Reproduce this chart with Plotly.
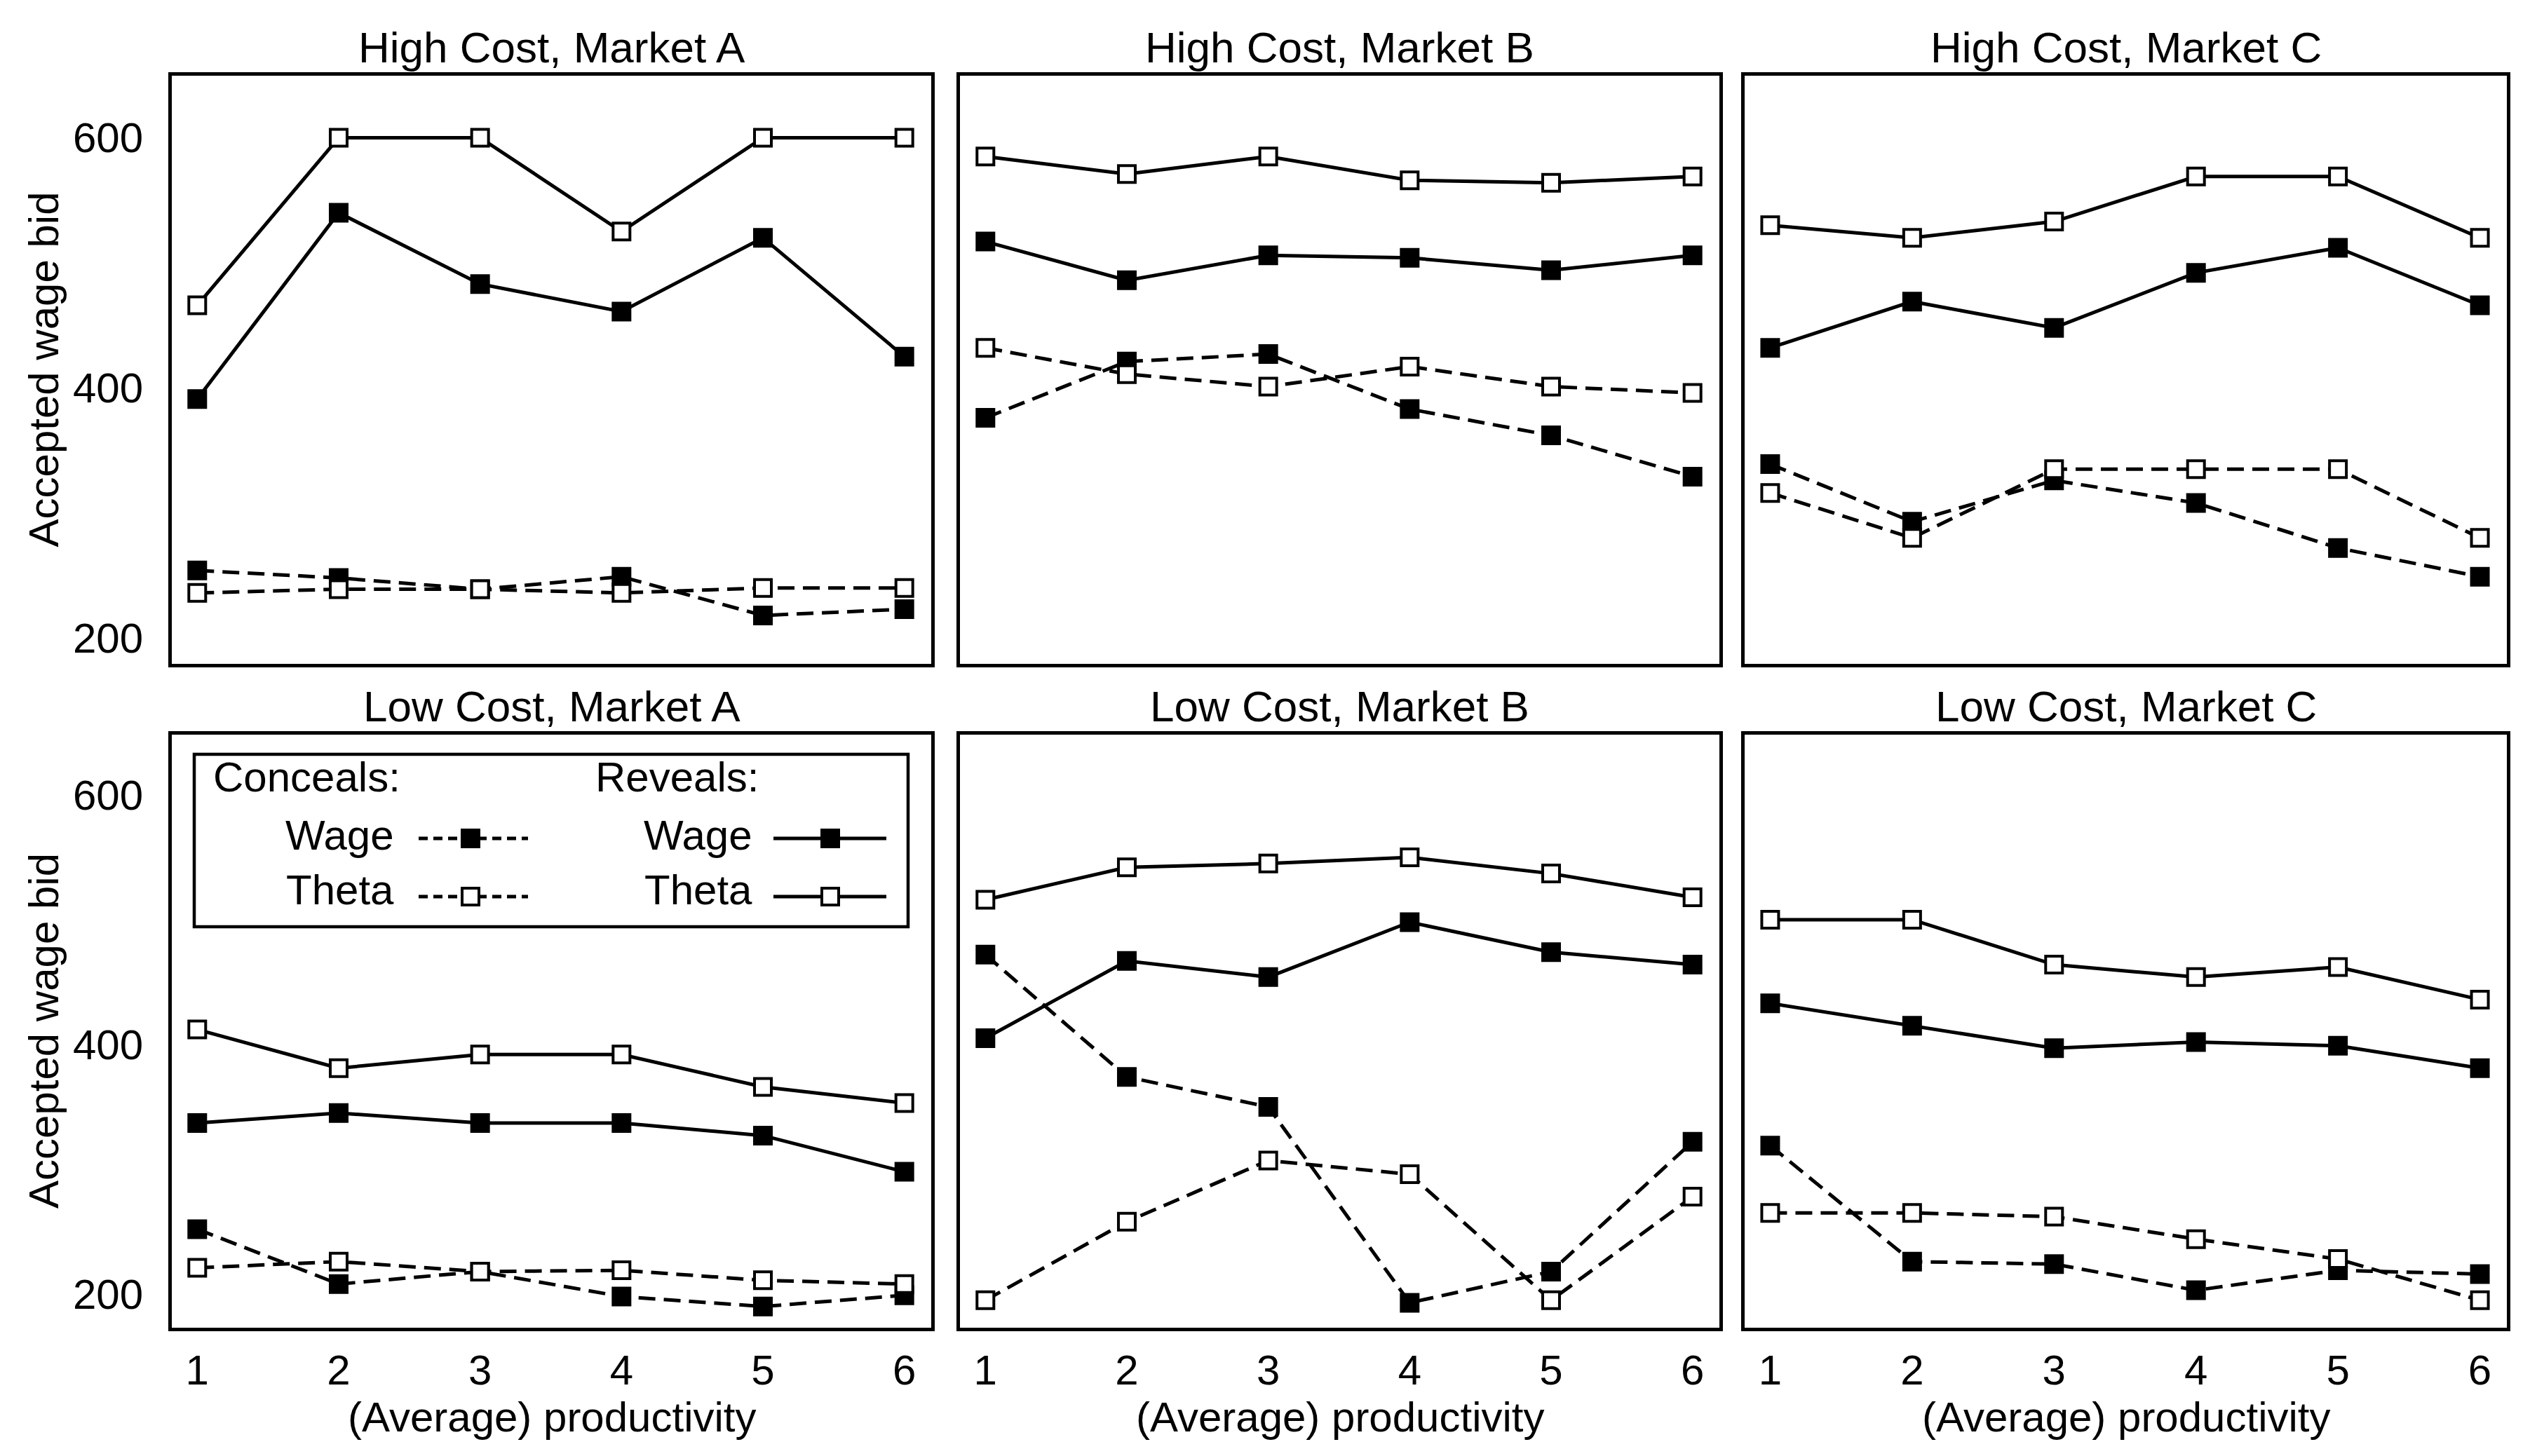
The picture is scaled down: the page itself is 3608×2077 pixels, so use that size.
import plotly.graph_objects as go

# ---------------- data ----------------
productivity = [1, 2, 3, 4, 5, 6]
y_ticks = [200, 400, 600]
panel_titles = ["High Cost, Market A", "High Cost, Market B", "High Cost, Market C",
                "Low Cost, Market A", "Low Cost, Market B", "Low Cost, Market C"]
x_title = "(Average) productivity"
y_title = "Accepted wage bid"

hcA_conceal_wage = [254, 248, 239, 249, 218, 223]
hcA_conceal_theta = [236, 239, 239, 236, 240, 240]
hcA_reveal_wage = [391, 540, 483, 461, 520, 425]
hcA_reveal_theta = [466, 600, 600, 525, 600, 600]

hcB_conceal_wage = [376, 421, 427, 383, 362, 329]
hcB_conceal_theta = [432, 411, 401, 417, 401, 396]
hcB_reveal_wage = [517, 486, 506, 504, 494, 506]
hcB_reveal_theta = [585, 571, 585, 566, 564, 569]

hcC_conceal_wage = [339, 293, 326, 308, 272, 249]
hcC_conceal_theta = [316, 280, 335, 335, 335, 280]
hcC_reveal_wage = [432, 469, 448, 492, 512, 466]
hcC_reveal_theta = [530, 520, 533, 569, 569, 520]

lcA_conceal_wage = [252, 208, 218, 198, 190, 199]
lcA_conceal_theta = [221, 226, 218, 219, 211, 208]
lcA_reveal_wage = [337, 345, 337, 337, 327, 298]
lcA_reveal_theta = [412, 381, 392, 392, 366, 353]

lcB_conceal_wage = [472, 374, 350, 193, 218, 322]
lcB_conceal_theta = [195, 258, 307, 296, 195, 278]
lcB_reveal_wage = [405, 467, 454, 498, 474, 464]
lcB_reveal_theta = [516, 542, 545, 550, 537, 518]

lcC_conceal_wage = [319, 226, 224, 203, 219, 216]
lcC_conceal_theta = [265, 265, 262, 244, 228, 195]
lcC_reveal_wage = [433, 415, 397, 402, 399, 381]
lcC_reveal_theta = [500, 500, 464, 454, 462, 436]

panels = [
    (hcA_conceal_wage, hcA_conceal_theta, hcA_reveal_wage, hcA_reveal_theta),
    (hcB_conceal_wage, hcB_conceal_theta, hcB_reveal_wage, hcB_reveal_theta),
    (hcC_conceal_wage, hcC_conceal_theta, hcC_reveal_wage, hcC_reveal_theta),
    (lcA_conceal_wage, lcA_conceal_theta, lcA_reveal_wage, lcA_reveal_theta),
    (lcB_conceal_wage, lcB_conceal_theta, lcB_reveal_wage, lcB_reveal_theta),
    (lcC_conceal_wage, lcC_conceal_theta, lcC_reveal_wage, lcC_reveal_theta),
]

# ---------------- layout geometry (pixels) ----------------
W, H = 3608, 2077
FONT = "Liberation Sans, Arial, Helvetica, sans-serif"
col_px = [(237, 1320), (1361, 2444), (2480, 3567)]
row_px = [(100, 939), (1040, 1886)]
row_yrange = [[179.3, 649.6], [173.0, 648.3]]
x_range = [0.82, 6.19]
LW = 5
DASH = "24px,12px"
MS = 24
MLW = 4
TXT = 60
TITLE = 62


def pxx(x):
    return x / W


def pxy(y):
    return 1 - y / H


fig = go.Figure()
layout = dict(
    width=W, height=H,
    margin=dict(l=0, r=0, t=0, b=0),
    paper_bgcolor="white", plot_bgcolor="white",
    showlegend=False,
    font=dict(family=FONT, color="black", size=TXT),
)

styles = [
    ("Conceals wage", DASH, "black"),
    ("Conceals theta", DASH, "white"),
    ("Reveals wage", "solid", "black"),
    ("Reveals theta", "solid", "white"),
]

annotations = []
for i, series in enumerate(panels):
    r, c = divmod(i, 3)
    n = i + 1
    xa = "x" if n == 1 else f"x{n}"
    ya = "y" if n == 1 else f"y{n}"
    for vals, (name, dash, fill) in zip(series, styles):
        fig.add_trace(go.Scatter(
            x=productivity, y=vals, name=name, mode="lines+markers",
            xaxis=xa, yaxis=ya,
            line=dict(color="black", width=LW, dash=dash),
            marker=dict(symbol="square", size=MS, color=fill,
                        line=dict(color="black", width=MLW)),
            cliponaxis=False,
        ))
    x0, x1 = col_px[c]
    y0, y1 = row_px[r]
    key = "" if n == 1 else str(n)
    layout["xaxis" + key] = dict(
        domain=[pxx(x0), pxx(x1)], range=x_range, anchor=ya,
        showline=True, mirror=True, linewidth=LW, linecolor="black",
        showgrid=False, zeroline=False, tickmode="array", tickvals=productivity,
        showticklabels=(r == 1), ticks="", ticklabelstandoff=4,
        tickfont=dict(family=FONT, size=TXT, color="black"),
    )
    layout["yaxis" + key] = dict(
        domain=[pxy(y1), pxy(y0)], range=row_yrange[r], anchor=xa,
        showline=True, mirror=True, linewidth=LW, linecolor="black",
        showgrid=False, zeroline=False, tickmode="array", tickvals=y_ticks,
        showticklabels=(c == 0), ticks="", ticklabelstandoff=24,
        tickfont=dict(family=FONT, size=TXT, color="black"),
    )
    # panel title
    annotations.append(dict(
        text=panel_titles[i], xref="paper", yref="paper",
        x=pxx((x0 + x1) / 2), y=pxy(y0 - 41), xanchor="center", yanchor="middle",
        showarrow=False, font=dict(family=FONT, size=TITLE, color="black")))
    if r == 1:
        annotations.append(dict(
            text=x_title, xref="paper", yref="paper",
            x=pxx((x0 + x1) / 2), y=pxy(2013), xanchor="center", yanchor="middle",
            showarrow=False, font=dict(family=FONT, size=TXT, color="black")))
    if c == 0:
        annotations.append(dict(
            text=y_title, xref="paper", yref="paper", textangle=-90,
            x=pxx(54), y=pxy((y0 + y1) / 2), xanchor="center", yanchor="middle",
            showarrow=False, font=dict(family=FONT, size=TXT, color="black")))

# ---------------- legend (inside Low Cost, Market A) ----------------
shapes = []
shapes.append(dict(type="rect", xref="paper", yref="paper",
                   x0=pxx(269), x1=pxx(1287), y0=pxy(1314), y1=pxy(1068),
                   line=dict(color="black", width=4.5), fillcolor="white", layer="above"))

leg_font = dict(family=FONT, size=TXT, color="black")
annotations.append(dict(text="Conceals:", xref="paper", yref="paper", x=pxx(294), y=pxy(1100),
                        xanchor="left", yanchor="middle", showarrow=False, font=leg_font))
annotations.append(dict(text="Reveals:", xref="paper", yref="paper", x=pxx(839), y=pxy(1100),
                        xanchor="left", yanchor="middle", showarrow=False, font=leg_font))

leg_rows = [("Wage", 1183, 1188, "black"), ("Theta", 1261, 1271, "white")]
leg_cols = [(556, 589, 745, 663, "13px,8px"), (1067, 1095, 1256, 1176, "solid")]
for label, ty, ly, fill in leg_rows:
    for tx, lx0, lx1, mx, dash in leg_cols:
        annotations.append(dict(text=label, xref="paper", yref="paper", x=pxx(tx), y=pxy(ty),
                                xanchor="right", yanchor="middle", showarrow=False, font=leg_font))
        shapes.append(dict(type="line", xref="paper", yref="paper",
                           x0=pxx(lx0), x1=pxx(lx1), y0=pxy(ly), y1=pxy(ly),
                           line=dict(color="black", width=LW, dash=dash), layer="above"))
        shapes.append(dict(type="rect", xref="paper", yref="paper",
                           x0=pxx(mx - MS / 2), x1=pxx(mx + MS / 2),
                           y0=pxy(ly + MS / 2), y1=pxy(ly - MS / 2),
                           line=dict(color="black", width=MLW), fillcolor=fill, layer="above"))

layout["annotations"] = annotations
layout["shapes"] = shapes
fig.update_layout(**layout)
fig.write_html("out.html")
